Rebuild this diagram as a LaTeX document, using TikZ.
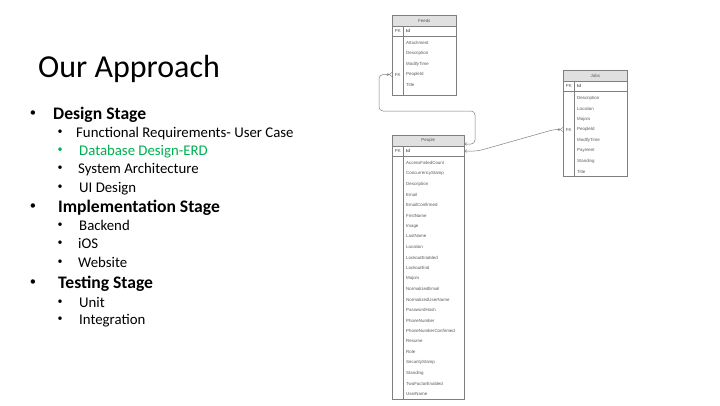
\documentclass[tikz,border=0pt]{standalone}
\usepackage{fontspec}
\setmainfont{Carlito}
\newfontfamily\erdfont{Liberation Sans}
\usetikzlibrary{arrows.meta}
\definecolor{erdline}{HTML}{7F7F7F}
\definecolor{erdhead}{HTML}{E0E0E0}
\definecolor{erdtext}{HTML}{595959}
\definecolor{greenitem}{HTML}{00B050}
% #1 name, #2 x, #3 y, #4 width, #5 height, #6 title, #7 fields, #8 FK index
\newcommand\erdtab[8]{%
  \node[tbl, minimum width=#4pt, minimum height=#5pt] (#1) at (#2,#3) {};
  \filldraw[fill=erdhead, draw=erdline, line width=0.5pt] (#1.north west) rectangle ([yshift=-11pt]#1.north east);
  \draw[erdline, line width=0.5pt] ([yshift=-21.5pt]#1.north west) -- ([yshift=-21.5pt]#1.north east);
  \draw[erdline, line width=0.5pt] ([xshift=11.5pt,yshift=-11pt]#1.north west) -- ([xshift=11.5pt]#1.south west);
  \node[fld, anchor=center] (#1-title) at ([yshift=-5.5pt]#1.north) {#6};
  \node[fld, anchor=center] (#1-pk) at ([xshift=5.75pt,yshift=-16.25pt]#1.north west) {PK};
  \node[fld, font=\erdfont\bfseries\fontsize{4.4}{5}\selectfont] (#1-id) at ([xshift=14pt,yshift=-16.25pt]#1.north west) {Id};
  \foreach \f [count=\i] in {#7} {
    \node[fld] (#1-f\i) at ([xshift=14pt,yshift={-28pt-(\i-1)*10.5pt}]#1.north west) {\f};
  }
  \ifnum#8>0
    \node[fld, anchor=center] (#1-fk) at (#1-pk |- #1-f#8) {FK};
  \fi
}
\begin{document}
\begin{tikzpicture}[x=1pt,y=-1pt,
  title/.style={anchor=base west, inner sep=0, font=\fontsize{32}{36}\selectfont},
  lvlone/.style={anchor=base west, inner sep=0, font=\fontsize{17.6}{20}\selectfont\bfseries},
  lvltwo/.style={anchor=base west, inner sep=0, font=\fontsize{14.8}{17}\selectfont},
  dotone/.style={anchor=center, inner sep=0, font=\fontsize{12.5}{14}\selectfont},
  dottwo/.style={anchor=center, inner sep=0, font=\fontsize{10}{12}\selectfont},
  tbl/.style={draw=erdline, line width=0.6pt, anchor=north west, inner sep=0, fill=white},
  fld/.style={anchor=west, inner sep=0, text=erdtext, font=\erdfont\fontsize{4.4}{5}\selectfont},
  conn/.style={draw=erdline, line width=0.5pt, rounded corners=4pt,
    {Straight Barb[reversed,length=2.5pt,width=4pt,line width=0.4pt] Circle[open,length=2.4pt,width=2.4pt,line width=0.4pt]}-{Straight Barb[length=2pt,width=3pt,line width=0.4pt]}}
]
\useasboundingbox[fill=white] (0,0) rectangle (720,405);

% title
\node[title] (ttl) at (38,77) {Our Approach};

% bullets
\node[dotone] (b1) at (33,113.5) {•};
\node[lvlone] (t1) at (53,119) {Design Stage};
\node[dottwo] (b11) at (60,132.5) {•};
\node[lvltwo] (t11) at (76,137) {Functional Requirements- User Case};
\node[dottwo, text=greenitem] (b12) at (60,150.5) {•};
\node[lvltwo, text=greenitem] (t12) at (79,155) {Database Design-ERD};
\node[dottwo] (b13) at (60,168.5) {•};
\node[lvltwo] (t13) at (78,173) {System Architecture};
\node[dottwo] (b14) at (60,187.5) {•};
\node[lvltwo] (t14) at (79,192) {UI Design};
\node[dotone] (b2) at (33,206.5) {•};
\node[lvlone] (t2) at (58,212) {Implementation Stage};
\node[dottwo] (b21) at (60,225.5) {•};
\node[lvltwo] (t21) at (79,230) {Backend};
\node[dottwo] (b22) at (60,243.5) {•};
\node[lvltwo] (t22) at (78,248) {iOS};
\node[dottwo] (b23) at (60,262.5) {•};
\node[lvltwo] (t23) at (78,267) {Website};
\node[dotone] (b3) at (33,282.5) {•};
\node[lvlone] (t3) at (58,288) {Testing Stage};
\node[dottwo] (b31) at (60,302.5) {•};
\node[lvltwo] (t31) at (79,307) {Unit};
\node[dottwo] (b32) at (60,319.5) {•};
\node[lvltwo] (t32) at (79,324) {Integration};

% ERD tables
\erdtab{feeds}{392}{15}{64}{80}{Feeds}{Attachment,Description,ModifyTime,PeopleId,Title}{4}
\erdtab{jobs}{563}{70}{64}{106}{Jobs}{Description,Location,Majors,PeopleId,ModifyTime,Payment,Standing,Title}{4}
\erdtab{people}{392}{135}{72}{264}{People}{AccessFailedCount,ConcurrencyStamp,Description,Email,EmailConfirmed,FirstName,Image,LastName,Location,LockoutEnabled,LockoutEnd,Majors,NormalizedEmail,NormalizedUserName,PasswordHash,PhoneNumber,PhoneNumberConfirmed,Resume,Role,SecurityStamp,Standing,TwoFactorEnabled,UserName}{0}

% connectors
\coordinate (feedsfk) at (feeds.west |- feeds-f4);
\coordinate (jobsfk) at (jobs.west |- jobs-f4);
\coordinate (pin1) at (people.east |- 0,144);
\coordinate (pin2) at (people.east |- 0,151);
\draw[conn] (feedsfk) -| (379,111) -| (475,144) -- (pin1);
\draw[conn] (jobsfk) -- ++(-9,0) -- (478,151) -- (pin2);
\end{tikzpicture}
\end{document}
